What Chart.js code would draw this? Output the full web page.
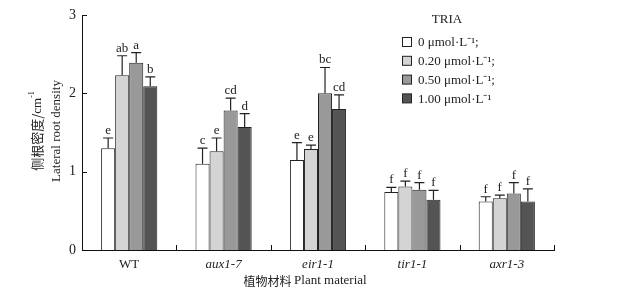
<!DOCTYPE html>
<html>
<head>
<meta charset="utf-8">
<script src="https://cdn.jsdelivr.net/npm/chart.js"></script>
<style>
  body { margin: 0; background: #fff; }
  #wrap { width: 620px; height: 292px; }
</style>
</head>
<body>
<div id="wrap"><canvas id="grafico"></canvas></div>
<script>
// dados
const plantas = ['WT', 'aux1-7', 'eir1-1', 'tir1-1', 'axr1-3']
const doses = ['0 μmol·L⁻¹;', '0.20 μmol·L⁻¹;', '0.50 μmol·L⁻¹;', '1.00 μmol·L⁻¹']
const cores = ['#ffffff', '#d4d4d4', '#999999', '#545454']

const dose0 = [1.30, 1.10, 1.15, 0.74, 0.62]
const dose020 = [2.23, 1.26, 1.29, 0.81, 0.66]
const dose050 = [2.39, 1.78, 2.00, 0.77, 0.72]
const dose100 = [2.09, 1.57, 1.80, 0.64, 0.62]

const erro0 = [0.13, 0.20, 0.22, 0.06, 0.06]
const erro020 = [0.25, 0.17, 0.05, 0.07, 0.04]
const erro050 = [0.13, 0.16, 0.33, 0.09, 0.14]
const erro100 = [0.12, 0.17, 0.18, 0.12, 0.16]

const letras0 = ['e', 'c', 'e', 'f', 'f']
const letras020 = ['ab', 'e', 'e', 'f', 'f']
const letras050 = ['a', 'cd', 'bc', 'f', 'f']
const letras100 = ['b', 'd', 'cd', 'f', 'f']

const yTicks = [0, 1, 2, 3]

const valores = [dose0, dose020, dose050, dose100]
const erros = [erro0, erro020, erro050, erro100]
const letras = [letras0, letras020, letras050, letras100]

const fonte = '"Liberation Serif", "Times New Roman", serif'
const fonteCJK = '"Noto Sans CJK SC", sans-serif'

// barras de erro, letras, ticks para dentro, titulos e legenda
const extras = {
    id: 'extras',
    afterDatasetsDraw(chart) {
        const c = chart.ctx
        const x = chart.scales.x
        const y = chart.scales.y
        const area = chart.chartArea
        c.save()
        c.strokeStyle = '#222'
        c.fillStyle = '#222'
        c.lineWidth = 1.2
        c.textAlign = 'center'
        c.textBaseline = 'alphabetic'
        c.font = '13px ' + fonte

        for (let d = 0; d < valores.length; d++) {
            const meta = chart.getDatasetMeta(d)
            meta.data.forEach(function (barra, i) {
                const bx = barra.x
                const topo = y.getPixelForValue(valores[d][i])
                const fim = y.getPixelForValue(valores[d][i] + erros[d][i])
                c.beginPath()
                c.moveTo(bx, topo)
                c.lineTo(bx, fim)
                c.moveTo(bx - 5, fim)
                c.lineTo(bx + 5, fim)
                c.stroke()
                c.fillText(letras[d][i], bx, fim - 4)
            })
        }

        // ticks para dentro
        c.lineWidth = 1
        c.strokeStyle = '#111'
        c.beginPath()
        yTicks.forEach(function (v) {
            const py = Math.round(y.getPixelForValue(v)) + 0.5
            c.moveTo(area.left, py)
            c.lineTo(area.left + 5, py)
        })
        for (let i = 0; i < plantas.length; i++) {
            let px
            if (i < plantas.length - 1) {
                px = (x.getPixelForTick(i) + x.getPixelForTick(i + 1)) / 2
            } else {
                px = area.right
            }
            px = Math.round(px) + 0.5
            c.moveTo(px, area.bottom)
            c.lineTo(px, area.bottom - 5)
        }
        c.stroke()

        // titulo eixo x
        c.fillStyle = '#222'
        c.textBaseline = 'middle'
        c.textAlign = 'left'
        const parteCN = '植物材料 '
        const parteEN = 'Plant material'
        c.font = '12px ' + fonteCJK
        const w1 = c.measureText(parteCN).width
        c.font = '13px ' + fonte
        const w2 = c.measureText(parteEN).width
        let inicio = 305 - (w1 + w2) / 2
        c.font = '12px ' + fonteCJK
        c.fillText(parteCN, inicio, 281)
        c.font = '13px ' + fonte
        c.fillText(parteEN, inicio + w1, 281)

        // titulo eixo y (duas linhas)
        c.save()
        c.translate(57, 131)
        c.rotate(-Math.PI / 2)
        c.textAlign = 'center'
        c.font = '13px ' + fonte
        c.fillText('Lateral root density', 0, 0)
        c.restore()

        c.save()
        c.translate(37, 131)
        c.rotate(-Math.PI / 2)
        c.textAlign = 'left'
        const cn = '侧根密度/'
        const un = 'cm'
        c.font = '13px ' + fonteCJK
        const a = c.measureText(cn).width
        c.font = '13px ' + fonte
        const b = c.measureText(un).width
        const sup = '-1'
        c.font = '8px ' + fonte
        const s = c.measureText(sup).width
        let p = -(a + b + s) / 2
        c.font = '13px ' + fonteCJK
        c.fillText(cn, p, 0)
        c.font = '13px ' + fonte
        c.fillText(un, p + a, 1)
        c.font = '8px ' + fonte
        c.fillText(sup, p + a + b, -5)
        c.restore()

        // legenda
        c.textAlign = 'center'
        c.font = '13px ' + fonte
        c.fillText('TRIA', 447, 20)
        c.textAlign = 'left'
        for (let d = 0; d < doses.length; d++) {
            const ly = 42 + d * 18.8
            c.fillStyle = cores[d]
            c.fillRect(402.5, ly - 4.5, 9, 9)
            c.strokeStyle = '#222'
            c.lineWidth = 1
            c.strokeRect(402.5, ly - 4.5, 9, 9)
            c.fillStyle = '#222'
            c.fillText(doses[d], 418, ly + 1)
        }
        c.restore()
    }
}

const ctx = document.getElementById('grafico')

new Chart(ctx, {
    type: 'bar',
    data: {
        labels: plantas,
        datasets: valores.map(function (serie, d) {
            return {
                label: doses[d],
                data: serie,
                backgroundColor: cores[d],
                borderColor: '#222',
                borderWidth: 1,
                borderSkipped: 'bottom',
                categoryPercentage: 0.595,
                barPercentage: 1
            }
        })
    },
    options: {
        responsive: true,
        maintainAspectRatio: false,
        animation: false,
        layout: {
            padding: { top: 15, right: 66, bottom: 0, left: 0 }
        },
        plugins: {
            legend: { display: false },
            tooltip: { enabled: false }
        },
        scales: {
            x: {
                grid: { display: false, drawTicks: false, tickLength: 0 },
                border: { color: '#111', width: 1 },
                ticks: {
                    color: '#222',
                    padding: 7,
                    font: function (c) {
                        return {
                            family: fonte,
                            size: 13,
                            style: c.index > 0 ? 'italic' : 'normal'
                        }
                    }
                },
                afterFit: function (scale) {
                    scale.height = 42
                }
            },
            y: {
                min: 0,
                max: 3,
                grid: { display: false, drawTicks: false, tickLength: 0 },
                border: { color: '#111', width: 1 },
                ticks: {
                    stepSize: 1,
                    color: '#222',
                    padding: 6,
                    font: { family: fonte, size: 14 }
                },
                afterFit: function (scale) {
                    scale.width = 82
                }
            }
        }
    },
    plugins: [extras]
});
</script>
</body>
</html>
